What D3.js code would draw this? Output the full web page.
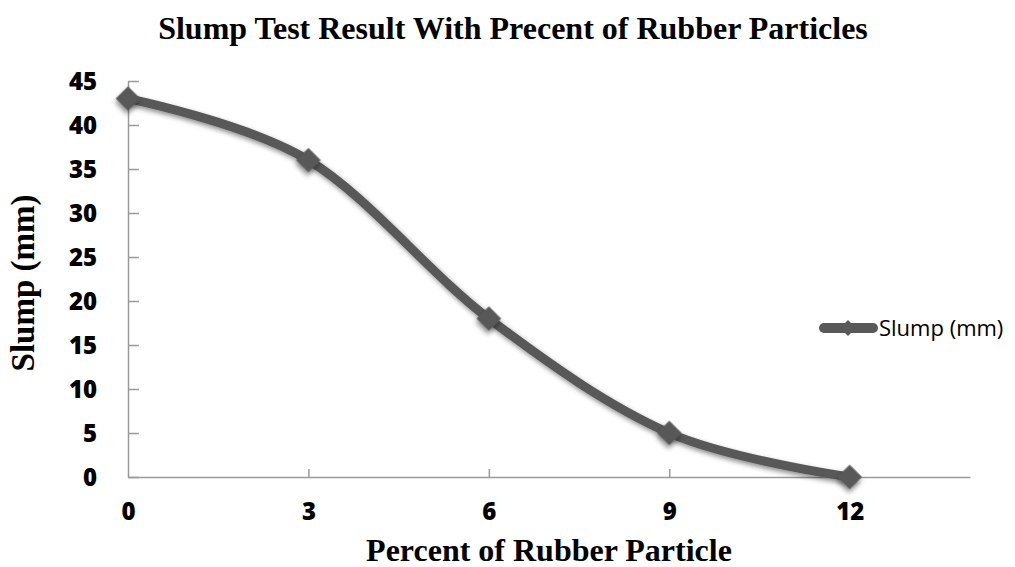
<!DOCTYPE html>
<html>
<head>
<meta charset="utf-8">
<script src="https://cdn.jsdelivr.net/npm/d3@7"></script>
<style>
  body { margin: 0; background: #fff; }
  svg { display: block; }
</style>
</head>
<body>
<div id="wrap"></div>
<script>
const percent = [0, 3, 6, 9, 12];
const slump = [43, 36, 18, 5, 0];
const xTicks = [0, 3, 6, 9, 12];
const yTicks = [0, 5, 10, 15, 20, 25, 30, 35, 40, 45];
const seriesName = "Slump (mm)";

const width = 1015;
const height = 567;
const margin = { left: 128, right: 45, top: 81, bottom: 90 };
const color = "#595959";

const svg = d3.select("#wrap").append("svg")
    .attr("width", width)
    .attr("height", height);

const defs = svg.append("defs");
const shadow = defs.append("filter").attr("id", "shadow")
    .attr("x", "-50%").attr("y", "-50%").attr("width", "200%").attr("height", "200%");
shadow.append("feDropShadow")
    .attr("dx", 2).attr("dy", 3).attr("stdDeviation", 2.5)
    .attr("flood-color", "#000").attr("flood-opacity", 0.45);

// scatter-style x scale, axis runs to 14
const x = d3.scaleLinear()
    .domain([0, 14])
    .range([margin.left, width - margin.right]);

const y = d3.scaleLinear()
    .domain([0, 45])
    .range([height - margin.bottom, margin.top]);

const xAxis = d3.axisBottom(x)
    .tickValues(xTicks)
    .tickSizeInner(-8)
    .tickSizeOuter(0)
    .tickPadding(26);

const yAxis = d3.axisLeft(y)
    .tickValues(yTicks)
    .tickSizeInner(-11)
    .tickSizeOuter(0)
    .tickPadding(31);

const gx = svg.append("g")
    .attr("transform", `translate(0,${y(0)})`)
    .call(xAxis);

const gy = svg.append("g")
    .attr("transform", `translate(${x(0)},0)`)
    .call(yAxis);

[gx, gy].forEach(g => {
    g.select(".domain").attr("stroke", "#9a9a9a").attr("stroke-width", 1.5);
    g.selectAll(".tick line").attr("stroke", "#9a9a9a").attr("stroke-width", 1.5);
    g.selectAll(".tick text")
        .attr("fill", "#000")
        .style("font-family", "'Open Sans', sans-serif")
        .style("font-weight", "800")
        .style("font-size", "24px");
});
gy.selectAll(".tick text").attr("dy", "0.36em");
// the 0 x tick mark sits on the y axis
gx.selectAll(".tick").filter(d => d === 0).select("line").remove();

const pts = percent.map((p, i) => ({ x: p, y: slump[i] }));

const line = d3.line()
    .curve(d3.curveCardinal.tension(0))
    .x(d => x(d.x))
    .y(d => y(d.y));

svg.append("path")
    .attr("d", line(pts))
    .attr("fill", "none")
    .attr("stroke", color)
    .attr("stroke-width", 9)
    .attr("stroke-linecap", "round")
    .attr("filter", "url(#shadow)");

const diamond = d3.symbol().type(d3.symbolSquare).size(300);

svg.append("g").selectAll("path")
    .data(pts)
    .join("path")
    .attr("d", diamond)
    .attr("transform", d => `translate(${x(d.x)},${y(d.y)}) rotate(45)`)
    .attr("fill", color)
    .attr("filter", "url(#shadow)");

// legend
const lg = svg.append("g").attr("transform", "translate(820,328)");
lg.append("line")
    .attr("x1", 4).attr("x2", 53)
    .attr("stroke", color).attr("stroke-width", 10)
    .attr("stroke-linecap", "round");
lg.append("path")
    .attr("d", d3.symbol().type(d3.symbolSquare).size(130))
    .attr("transform", "translate(28,0) rotate(45)")
    .attr("fill", color);
lg.append("text")
    .attr("x", 59).attr("y", 0).attr("dy", "0.35em")
    .style("font-family", "'Open Sans', sans-serif")
    .style("font-size", "22px")
    .attr("fill", "#000")
    .text(seriesName);

// titles
const serif = "'Liberation Serif', 'Times New Roman', serif";
svg.append("text")
    .attr("x", 513).attr("y", 39)
    .attr("text-anchor", "middle")
    .style("font-family", serif).style("font-weight", "bold").style("font-size", "32px")
    .text("Slump Test Result With Precent of Rubber Particles");

svg.append("text")
    .attr("x", 549).attr("y", 561)
    .attr("text-anchor", "middle")
    .style("font-family", serif).style("font-weight", "bold").style("font-size", "32px")
    .text("Percent of Rubber Particle");

svg.append("text")
    .attr("transform", "translate(34,283) rotate(-90)")
    .attr("text-anchor", "middle")
    .style("font-family", serif).style("font-weight", "bold").style("font-size", "33px")
    .text("Slump (mm)");
</script>
</body>
</html>
